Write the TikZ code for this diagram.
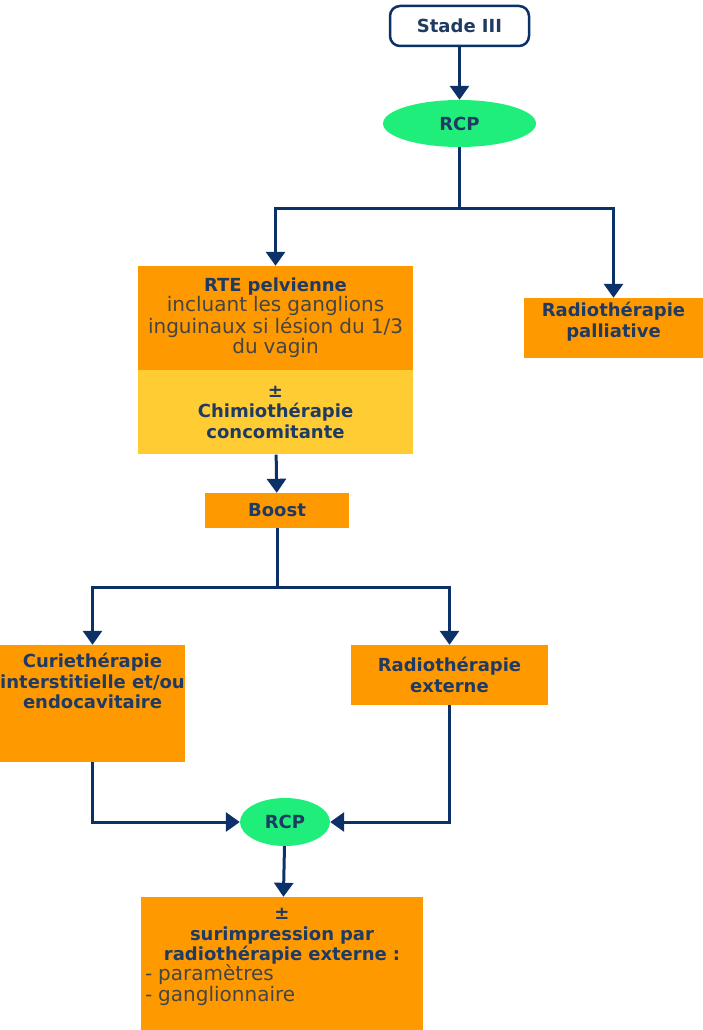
\documentclass[tikz,border=0pt]{standalone}
\usepackage{fontspec}
\setmainfont{DejaVu Sans}
\usetikzlibrary{positioning,shapes.geometric,arrows.meta}

\definecolor{navy}{HTML}{0B3168}
\definecolor{txtblue}{HTML}{1F3A63}
\definecolor{txtgray}{HTML}{454545}
\definecolor{boxorange}{HTML}{FF9900}
\definecolor{boxyellow}{HTML}{FFCC33}
\definecolor{rcpgreen}{HTML}{1FEF7A}

\newcommand{\hdtxt}{\fontsize{18}{20.5}\selectfont\bfseries}
\newcommand{\grtxt}{\fontsize{20}{20}\selectfont\mdseries\color{txtgray}}

\begin{document}
\begin{tikzpicture}[x=1pt,y=-1pt,
  box/.style={fill=boxorange,inner sep=2pt,align=center,font=\hdtxt,text=txtblue},
  rcp/.style={ellipse,fill=rcpgreen,inner sep=1pt,font=\hdtxt,text=txtblue},
  line/.style={draw=navy,line width=3pt},
  arr/.style={line,-{Triangle[width=19pt,length=14pt]}}]

\useasboundingbox (0,0) rectangle (703,1030);

% start and first RCP
\node[box,fill=white,draw=navy,line width=2.5pt,rounded corners=10pt,minimum width=139,minimum height=40] (stade) at (459.5,26) {Stade III};
\node[rcp,minimum width=153,minimum height=47] (rcp1) at (459.5,123.5) {RCP};
\draw[arr] (stade) -- (rcp1);

% first split
\node[box,minimum width=275,minimum height=104,text width=270] (rte) at (275.5,318) {RTE pelvienne\\\grtxt incluant les ganglions\\inguinaux si lésion du 1/3\\du vagin};
\node[box,fill=boxyellow,minimum width=275,minimum height=84,text width=270,below=0pt of rte] (chimio) {±\\Chimiothérapie\\concomitante};
\node[box,minimum width=179,minimum height=60] (pall) at (613.5,328) {Radiothérapie\\palliative\\[-4pt]};

\coordinate (fork1) at (459.5,208);
\draw[line] (rcp1) -- (fork1);
\draw[arr] (fork1) -| (rte);
\draw[arr] (fork1) -| (pall);

% boost
\node[box,minimum width=144,minimum height=35] (boost) at (277,510.5) {Boost};
\draw[arr] (chimio) -- (boost);

% second split
\node[box,minimum width=185,minimum height=117] (curie) at (92.5,703.5) {};
\node[below=5pt of curie.north,align=center,font=\hdtxt,text=txtblue] (curietxt) {Curiethérapie\\interstitielle et/ou\\endocavitaire};
\node[box,minimum width=197,minimum height=60] (rtext) at (449.5,675) {Radiothérapie\\externe};

\coordinate (fork2) at (277,587);
\draw[line] (boost) -- (fork2);
\draw[arr] (fork2) -| (curie);
\draw[arr] (fork2) -| (rtext);

% second RCP
\node[rcp,minimum width=90,minimum height=48] (rcp2) at (285,822) {RCP};
\draw[arr] (curie) |- (rcp2);
\draw[arr] (rtext) |- (rcp2);

% last box
\node[box,minimum width=282,minimum height=133] (final) at (282,963.5) {};
\node[below=8pt of final.north,text width=274,align=center,font=\hdtxt,text=txtblue] (finaltxt) {±\\surimpression par\\radiothérapie externe :\\\grtxt\makebox[274pt][l]{- paramètres}\\\makebox[274pt][l]{- ganglionnaire}};
\draw[arr] (rcp2) -- (final);

\end{tikzpicture}
\end{document}
